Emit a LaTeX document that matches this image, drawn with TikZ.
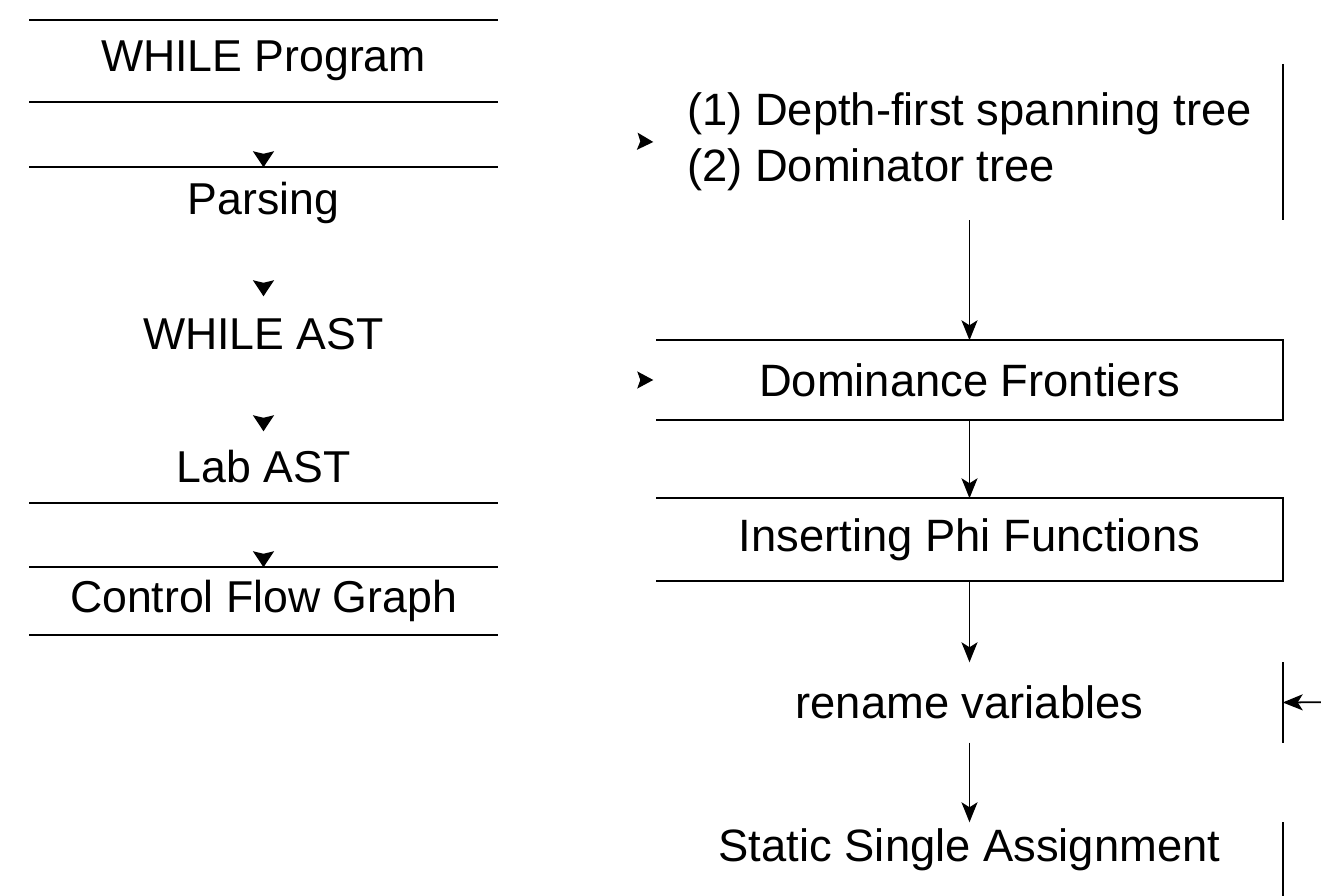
\documentclass[tikz,border=0pt]{standalone}
\usepackage{fontspec}
\setmainfont{Liberation Sans}
\usetikzlibrary{arrows.meta}

\begin{document}
\begin{tikzpicture}[
    lstage/.style={minimum width=4.67cm, inner sep=0pt, font=\fontsize{12.7}{15.5}\selectfont},
    rstage/.style={minimum width=6.25cm, inner sep=0pt, align=left, font=\fontsize{12.9}{15.8}\selectfont},
    arr/.style={-{Stealth[length=2.0mm, width=1.6mm, inset=0.5mm]}, line width=0.5pt},
    tip/.style={-{Stealth[length=1.6mm, width=2.1mm, inset=0.25mm, color=black]}, draw=white},
    rtip/.style={-{Stealth[length=1.6mm, width=1.7mm, inset=0.3mm, color=black]}, draw=white},
    rule/.style={line width=0.6pt}
]
\useasboundingbox (0,0) rectangle (13.21,-8.96);
\clip (0,0) rectangle (13.21,-8.96);

% left column
\node[lstage, minimum height=0.80cm] (prog) at (2.635,-0.61) {WHILE Program};
\node[lstage, minimum height=0.70cm] (pars) at (2.635,-2.03) {Parsing};
\node[lstage, minimum height=0.74cm] (whast) at (2.635,-3.34) {WHILE AST};
\node[lstage, minimum height=0.70cm] (labast) at (2.635,-4.67) {Lab AST};
\node[lstage, minimum height=0.66cm] (cfg) at (2.635,-6.01) {Control Flow Graph};

\draw[tip] (prog) -- (pars);
\draw[tip] (pars) -- (whast);
\draw[tip] (whast) -- (labast);
\draw[tip] (labast) -- (cfg);

\draw[rule] (prog.north west) -- (prog.north east);
\draw[rule] (prog.south west) -- (prog.south east);
\draw[rule] (pars.north west) -- (pars.north east);
\draw[rule] (labast.south west) -- (labast.south east);
\draw[rule] (cfg.north west) -- (cfg.north east);
\draw[rule] (cfg.south west) -- (cfg.south east);

% right column
\node[rstage, minimum height=1.55cm] (dfs) at (9.695,-1.42) {(1) Depth-first spanning tree\\(2) Dominator tree};
\node[rstage, minimum height=0.78cm] (dom) at (9.695,-3.80) {Dominance Frontiers};
\node[rstage, minimum height=0.81cm] (phi) at (9.695,-5.395) {Inserting Phi Functions};
\node[rstage, minimum height=0.79cm] (ren) at (9.695,-7.025) {rename variables};
\node[rstage, minimum height=0.54cm] (ssa) at (9.695,-8.50) {Static Single Assignment};

\coordinate (inA) at (6.10,-1.40);
\coordinate (inB) at (6.10,-3.80);
\coordinate (ext) at (13.60,-7.02);

\draw[rtip] (inA) -- ([xshift=-0.3mm]dfs.west);
\draw[rtip] (inB) -- ([xshift=-0.3mm]dom.west);

\draw[rule] (dfs.north east) -- (dfs.south east);
\draw[rule] (dom.north west) -- (dom.north east) -- (dom.south east) -- (dom.south west);
\draw[rule] (phi.north west) -- (phi.north east) -- (phi.south east) -- (phi.south west);
\draw[rule] (ren.north east) -- (ren.south east);
\draw[rule] (ssa.north east) -- ++(0,-1);

\draw[arr] (dfs) -- (dom);
\draw[arr] (dom) -- (phi);
\draw[arr] (phi) -- (ren);
\draw[arr] (ren) -- (ssa);
\draw[arr] (ext) -- (ren.east);
\end{tikzpicture}
\end{document}
